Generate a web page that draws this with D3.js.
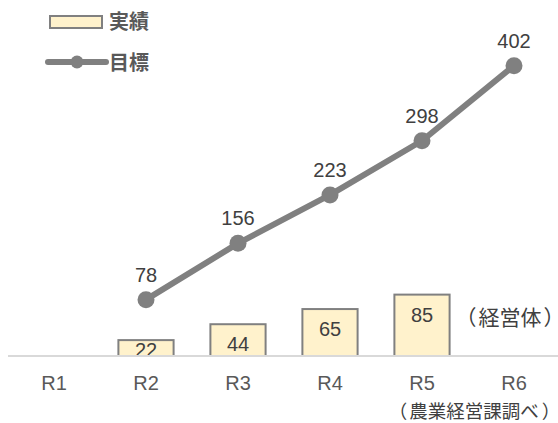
<!DOCTYPE html>
<html><head><meta charset="utf-8">
<script src="https://cdn.jsdelivr.net/npm/d3@7"></script>
<style>body{margin:0;background:#fff}svg{display:block}text.note{font-feature-settings:"halt" 1}</style>
</head><body>
<script>
const categories = ["R1","R2","R3","R4","R5","R6"];
const actual = [null,22,44,65,85,null];
const target = [null,78,156,223,298,402];
const legendLabels = ["実績","目標"];
const unitLabel = ["（","経営体","）"];
const sourceLabel = ["（","農業経営課調べ","）"];

const W=558,H=423;
const svg=d3.select("body").append("svg").attr("width",W).attr("height",H);
const font="'Liberation Sans', Arial, 'Noto Sans CJK JP', sans-serif";
const jp="'Noto Sans CJK JP', sans-serif";
const x=d3.scaleBand().domain(categories).range([8,560]).paddingInner(0.4).paddingOuter(0.2);
const y=d3.scaleLinear().domain([0,450]).range([356,31]);
const cx=c=>x(c)+x.bandwidth()/2;

// bars
const bars=categories.map((c,i)=>({c,v:actual[i]})).filter(d=>d.v!=null);
svg.selectAll("rect.bar").data(bars).join("rect").attr("class","bar")
  .attr("x",d=>x(d.c)).attr("width",x.bandwidth())
  .attr("y",d=>y(d.v)).attr("height",d=>y(0)-y(d.v))
  .attr("fill","#FFF2CC").attr("stroke","#808080").attr("stroke-width",2);
svg.selectAll("text.bl").data(bars).join("text").attr("class","bl")
  .attr("x",d=>cx(d.c)).attr("y",d=>y(d.v)+Math.min(27,y(0)-y(d.v)+1))
  .attr("text-anchor","middle").attr("font-family",font).attr("font-size",20)
  .attr("fill","#404040").text(d=>d.v);

// axis
const axis=svg.append("g").attr("transform",`translate(0,${y(0)})`)
  .call(d3.axisBottom(x).tickSize(0).tickPadding(20));
axis.select(".domain").attr("stroke","#D9D9D9").attr("stroke-width",2).attr("d","M8,0H558");
axis.selectAll("text").attr("font-family",font).attr("font-size",20).attr("fill","#595959");

// line
const pts=categories.map((c,i)=>({c,v:target[i]})).filter(d=>d.v!=null);
svg.append("path").datum(pts).attr("fill","none").attr("stroke","#808080").attr("stroke-width",6)
  .attr("stroke-linejoin","round")
  .attr("d",d3.line().x(d=>cx(d.c)).y(d=>y(d.v)));
svg.selectAll("circle.pt").data(pts).join("circle").attr("class","pt")
  .attr("cx",d=>cx(d.c)).attr("cy",d=>y(d.v)).attr("r",8.5).attr("fill","#808080");
svg.selectAll("text.pl").data(pts).join("text").attr("class","pl")
  .attr("x",d=>cx(d.c)).attr("y",d=>y(d.v)-18)
  .attr("text-anchor","middle").attr("font-family",font).attr("font-size",20)
  .attr("fill","#404040").text(d=>d.v);

// legend
svg.append("rect").attr("x",50).attr("y",16).attr("width",52).attr("height",12)
  .attr("fill","#FFF2CC").attr("stroke","#808080").attr("stroke-width",2);
svg.append("line").attr("x1",48).attr("x2",106).attr("y1",62).attr("y2",62)
  .attr("stroke","#808080").attr("stroke-width",6).attr("stroke-linecap","round");
svg.append("circle").attr("cx",77).attr("cy",62).attr("r",6.5).attr("fill","#808080");
svg.append("text").attr("x",109).attr("y",29).attr("font-family",jp).attr("font-size",20)
  .attr("font-weight","bold").attr("fill","#595959").text(legendLabels[0]);
svg.append("text").attr("x",109).attr("y",70).attr("font-family",jp).attr("font-size",20)
  .attr("font-weight","bold").attr("fill","#595959").text(legendLabels[1]);

function note(parts,x0,y0,size,dx){
  const t=svg.append("text").attr("class","note").attr("x",x0).attr("y",y0)
    .attr("font-family",jp).attr("font-size",size).attr("fill","#404040");
  parts.forEach((p,i)=>t.append("tspan").attr("dx",i?dx[i-1]:0).text(p));
}
note(unitLabel,466,325,21,[2,2]);
note(sourceLabel,398,418,18.5,[2,3]);
</script>
</body></html>
